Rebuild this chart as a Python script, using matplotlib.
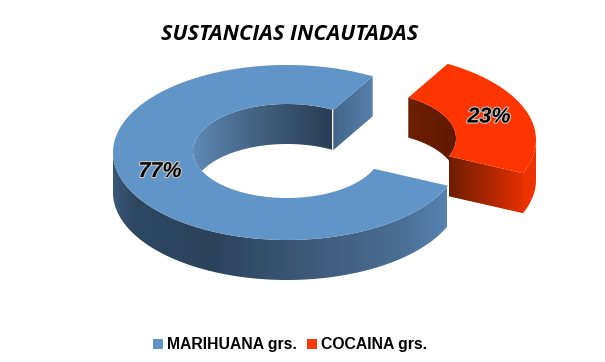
import numpy as np
import matplotlib
matplotlib.use("Agg")
import matplotlib.pyplot as plt
from matplotlib.colors import LinearSegmentedColormap
from matplotlib.patches import Polygon, Patch
import matplotlib.patheffects as pe

title = "SUSTANCIAS INCAUTADAS"
categories = ["COCAINA grs.", "MARIHUANA grs."]
values = [23, 77]
top_colors = ["#ff3500", "#6195c8"]

W, H = 605, 362
fig = plt.figure(figsize=(W / 100, H / 100), dpi=100)
ax = fig.add_axes([0, 0, 1, 1])
ax.set_axis_off()

# geometry of the pie in pixel units
CX, CY_OUT, CY_IN = 287, 152.5, 151
RX, RY, IRX, IRY = 174, 87.5, 94, 47
DEPTH = 40
START = 60.5
EXPLODE = (75, -12.5)


def pts(theta, dx=0, dy=0, inner=False, down=0):
    t = np.radians(np.atleast_1d(theta))
    if inner:
        return np.c_[CX + dx + IRX * np.cos(t), CY_IN + dy + down - IRY * np.sin(t)]
    return np.c_[CX + dx + RX * np.cos(t), CY_OUT + dy + down - RY * np.sin(t)]


def shade(poly, x0, x1, stops, z):
    cmap = LinearSegmentedColormap.from_list("g", stops)
    grad = np.linspace(0, 1, 256)[None, :]
    patch = Polygon(poly, closed=True, fc="none", ec="none", transform=ax.transData)
    ax.add_patch(patch)
    im = ax.imshow(grad, cmap=cmap, extent=[x0, x1, H, 0], aspect="auto", zorder=z,
                   interpolation="bilinear")
    im.set_clip_path(patch)


def arc(a, b, n=120):
    return np.linspace(a, b, n)


sweep = [v / sum(values) * 360 for v in values]
red_a, red_b = START, START - sweep[0]
blue_a, blue_b = START, START + sweep[1]
blue_end = blue_b - 360

# --- blue slice ---
left = arc(180, blue_b)
shade(np.vstack([pts(left), pts(left[::-1], down=DEPTH)]), 113, 447,
      [(0, "#38577a"), (0.06, "#2e4862"), (0.3, "#2b425b"), (0.6, "#3e5b7b"),
       (0.85, "#4a6d93"), (1, "#5682b0")], 1)
wall_sin = np.degrees(np.arcsin(DEPTH / 2 / IRY))
shade(np.vstack([pts(arc(blue_a, 180 + wall_sin), inner=True),
                 pts(arc(180 - wall_sin, blue_a), inner=True, down=DEPTH)]),
      193, 332, [(0, "#5e8ab6"), (0.45, "#436282"), (1, "#293d54")], 2)
o, i = pts(blue_a)[0], pts(blue_a, inner=True)[0]
shade([i, o, o + [0, DEPTH], i + [0, DEPTH]], i[0], o[0],
      [(0, "#42658a"), (1, "#5680aa")], 3)
ang = arc(blue_a, blue_b, 300)
ax.add_patch(Polygon(np.vstack([pts(ang), pts(ang[::-1], inner=True)]),
                     closed=True, fc=top_colors[1], ec="none", zorder=4))

# --- red slice ---
dx, dy = EXPLODE
o, i = pts(red_b, dx, dy)[0], pts(red_b, dx, dy, inner=True)[0]
side = arc(red_b, 0, 40)
ax.add_patch(Polygon(np.vstack([pts(side, dx, dy), pts(side[::-1], dx, dy, down=DEPTH)]),
                     closed=True, fc="#ee3200", ec="none", zorder=1))
shade(np.vstack([pts(arc(red_a, red_b), dx, dy, inner=True),
                 pts(arc(-red_b, red_a), dx, dy, inner=True, down=DEPTH)]),
      405, 460, [(0, "#6e1f00"), (1, "#611900")], 2)
shade([i, o, o + [0, DEPTH], i + [0, DEPTH]], i[0], o[0],
      [(0, "#6e1d00"), (0.5, "#a82600"), (1, "#e53000")], 3)
ang = arc(red_a, red_b, 120)
ax.add_patch(Polygon(np.vstack([pts(ang, dx, dy), pts(ang[::-1], dx, dy, inner=True)]),
                     closed=True, fc=top_colors[0], ec="none", zorder=4))

ax.set_xlim(0, W)
ax.set_ylim(H, 0)

# --- texts ---
ax.text(289.5, 34.5, title, fontfamily="Open Sans", fontweight="bold", fontstyle="italic",
        fontsize=15.6, ha="center", va="center", color="black", zorder=6)
halo = [pe.withStroke(linewidth=1.6, foreground="#c4c4c4")]
for v, (x, y) in zip(values, [(489, 117), (160, 171.5)]):
    ax.text(x, y, f"{v}%", fontfamily="Liberation Sans", fontweight="bold", fontstyle="italic",
            fontsize=15.5, ha="center", va="center", color="black", zorder=6, path_effects=halo)

handles = [Patch(fc=top_colors[1], ec="none"), Patch(fc=top_colors[0], ec="none")]
ax.legend(handles, [categories[1], categories[0]], ncol=2, frameon=False,
          loc="center", bbox_to_anchor=(290 / W, 1 - 345 / H),
          prop={"family": "Liberation Sans", "weight": "bold", "size": 11.3},
          handlelength=0.64, handleheight=0.64, handletextpad=0.25, columnspacing=0.64,
          borderpad=0, labelcolor="black")

fig.savefig("out.png", dpi=100, facecolor="white")
